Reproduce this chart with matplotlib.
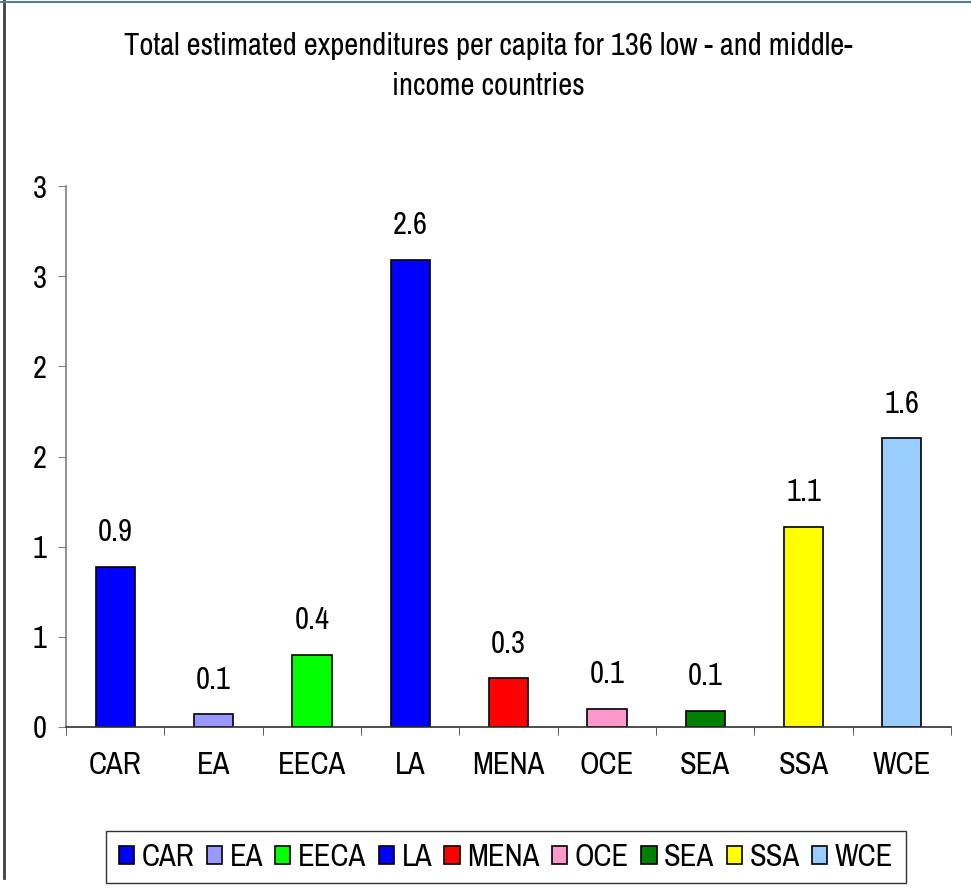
import matplotlib
matplotlib.use("Agg")
import matplotlib.pyplot as plt
from matplotlib.patches import Patch
from matplotlib.lines import Line2D

plt.rcParams['font.family'] = ['Archivo Narrow', 'Roboto Condensed', 'Liberation Sans', 'DejaVu Sans']

categories = ["CAR", "EA", "EECA", "LA", "MENA", "OCE", "SEA", "SSA", "WCE"]
values = [0.89, 0.07, 0.40, 2.59, 0.27, 0.10, 0.09, 1.11, 1.60]
value_labels = ["0.9", "0.1", "0.4", "2.6", "0.3", "0.1", "0.1", "1.1", "1.6"]
colors = ["#0000FF", "#9999FF", "#00FF00", "#0000FF", "#FF0000",
          "#FF99CC", "#008000", "#FFFF00", "#99CCFF"]
yticks = [0, 0.5, 1.0, 1.5, 2.0, 2.5, 3.0]
ytick_labels = ["0", "1", "1", "2", "2", "3", "3"]
title = "Total estimated expenditures per capita for 136 low - and middle-\nincome countries"

FS = 22

W, H = 971, 893
fig = plt.figure(figsize=(W / 100, H / 100), dpi=100)
ax = fig.add_axes([66 / W, 1 - 727 / H, (951 - 66) / W, (727 - 186) / H])

x = list(range(len(categories)))
bars = ax.bar(x, values, width=0.4, color=colors, edgecolor="black", linewidth=1.2)
for xi, v, lab in zip(x, values, value_labels):
    ax.annotate(lab, (xi, v), xytext=(0, 25), textcoords="offset points",
                ha="center", va="center", fontsize=FS)

ax.set_xlim(-0.5, len(categories) - 0.5)
ax.set_ylim(0, 3.0)
ax.set_yticks(yticks)
ax.set_yticklabels(ytick_labels, fontsize=FS)
ax.set_xticks(x)
ax.set_xticklabels(categories, fontsize=FS)
ax.set_xticks([i + 0.5 for i in range(-1, len(categories))], minor=True)
ax.tick_params(axis="x", which="major", length=0, pad=17)
ax.tick_params(axis="x", which="minor", length=6, direction="out", color="#404040")
ax.tick_params(axis="y", length=6, direction="out", color="#808080", pad=8)
for s in ["top", "right"]:
    ax.spines[s].set_visible(False)
ax.spines["left"].set_color("#808080")
ax.spines["bottom"].set_color("#303030")
ax.spines["left"].set_linewidth(1.2)
ax.spines["bottom"].set_linewidth(1.2)

fig.text(0.503, 1 - 66 / H, title, ha="center", va="center", fontsize=FS,
         linespacing=1.55)

handles = [Patch(facecolor=c, edgecolor="black", linewidth=1.2) for c in colors]
leg = fig.legend(handles, categories, loc="center", ncol=len(categories),
                 bbox_to_anchor=(506 / W, 1 - 857 / H), fontsize=FS,
                 frameon=True, fancybox=False, edgecolor="black",
                 handlelength=0.5, handleheight=0.5, handletextpad=0.25,
                 columnspacing=0.4, borderpad=0.4)
leg.get_frame().set_linewidth(1.0)

fig.add_artist(Line2D([3.5 / W, 3.5 / W], [1 - 878 / H, 1], transform=fig.transFigure,
                      color="#404040", linewidth=2))
fig.add_artist(Line2D([0, 1], [1 - 1.5 / H, 1 - 1.5 / H], transform=fig.transFigure,
                      color="#5a7a90", linewidth=1.5))

fig.savefig("out.png", dpi=100)
